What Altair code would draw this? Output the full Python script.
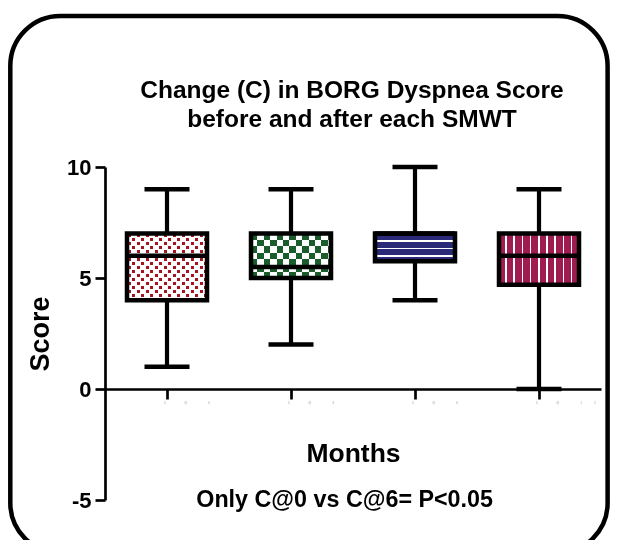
import math
import altair as alt
import pandas as pd

# ---------------- data ----------------
categories = ["C@0", "C@3", "C@6", "C@12"]
q1 = [4.0, 5.0, 5.75, 4.7]
medians = [6.0, 5.5, 7.0, 6.0]
q3 = [7.0, 7.0, 7.0, 7.0]
whisker_low = [1.0, 2.0, 4.0, 0.0]
whisker_high = [9.0, 9.0, 10.0, 9.0]
y_ticks = [-5, 0, 5, 10]
title_lines = ["Change (C) in BORG Dyspnea Score", "before and after each SMWT"]
x_title = "Months"
y_title = "Score"
footnote = "Only C@0 vs C@6= P<0.05"

# ---------------- style ----------------
FONT = "Liberation Sans"
W, H = 496, 333
YMIN, YMAX = -5, 10
PPU = H / (YMAX - YMIN)
BOX_W = 80
LW = 4.5
RED = "#a3161f"
GREEN = "#1b5c2d"
NAVY = "#2a2a78"
CRIMSON = "#9e1c50"

df = pd.DataFrame({
    "cat": categories, "q1": q1, "med": medians, "q3": q3,
    "lo": whisker_low, "hi": whisker_high,
})

E = "\u2003"
def tiny_label(c):
    digits = c.split("@")[1]
    d = (E * 4).join(list(digits))
    return "C" + E * 6 + "@" + E * 7 + d

label_expr = ""
for c in categories:
    label_expr += f"datum.label == '{c}' ? '{tiny_label(c)}' : "
label_expr += "datum.label"

x_axis = alt.Axis(
    title=x_title, titleFont=FONT, titleFontSize=26.5, titleFontWeight="bold",
    titleColor="black", titlePadding=36,
    labelExpr=label_expr, labelFontSize=3, labelColor="#999999", labelAngle=0,
    labelAlign="left", labelOffset=-3, labelPadding=2, labelFont=FONT,
    offset=-(0 - YMIN) * PPU, bandPosition=0.5,
    domainColor="black", domainWidth=2.7, tickColor="black", tickWidth=2.7,
    tickSize=10, grid=False,
)
y_axis = alt.Axis(
    title=y_title, titleFont=FONT, titleFontSize=27, titleFontWeight="bold",
    titleColor="black", titlePadding=12,
    values=y_ticks, labelExpr="'' + datum.value", labelFont=FONT, labelFontSize=22,
    labelFontWeight="bold", labelColor="black", labelPadding=4,
    domainColor="black", domainWidth=2.7, tickColor="black", tickWidth=2.7,
    tickSize=10, grid=False,
)
x_scale = alt.Scale(type="band", domain=categories, paddingInner=0, paddingOuter=0)
y_scale = alt.Scale(domain=[YMIN, YMAX], nice=False, zero=False)

def X():
    return alt.X("cat:N", sort=categories, scale=x_scale, axis=x_axis)

def Y(field):
    return alt.Y(f"{field}:Q", scale=y_scale, axis=y_axis)

base = alt.Chart(df)

# ------------- pattern helpers (gradients with hard stops) -------------
def stripe_stops(length, period, on, phase, on_c, off_c):
    edges = []
    k = -3
    while True:
        s = phase + k * period
        if s > length:
            break
        a, b = max(s, 0), min(s + on, length)
        if b > a:
            edges.append((a / length, b / length))
        k += 1
    stops = [alt.GradientStop(offset=0, color=off_c)]
    for a, b in edges:
        stops += [alt.GradientStop(offset=a, color=off_c),
                  alt.GradientStop(offset=a, color=on_c),
                  alt.GradientStop(offset=b, color=on_c),
                  alt.GradientStop(offset=b, color=off_c)]
    stops.append(alt.GradientStop(offset=1, color=off_c))
    return stops

def grad(stops, vertical_stripes):
    if vertical_stripes:
        return alt.LinearGradient(gradient="linear", stops=stops, x1=0, y1=0, x2=1, y2=0)
    return alt.LinearGradient(gradient="linear", stops=stops, x1=0, y1=0, x2=0, y2=1)

def box_layer(cat, fill, blend=None):
    kw = dict(width=BOX_W, fill=fill, opacity=1)
    if blend:
        kw["blend"] = blend
    return base.transform_filter(alt.datum.cat == cat).mark_bar(**kw).encode(
        x=X(), y=Y("q1"), y2="q3")

layers = []

# rounded frame around the whole figure
border = alt.Chart(pd.DataFrame({"k": [0]})).mark_rect(
    fillOpacity=0, stroke="black", strokeWidth=4.5, cornerRadius=50
).encode(x=alt.value(-94.7), x2=alt.value(502.6), y=alt.value(-151), y2=alt.value(386))
layers.append(border)

# whiskers + caps
layers.append(base.mark_rule(color="black", strokeWidth=4.2).encode(x=X(), y=Y("lo"), y2="hi"))
layers.append(base.mark_tick(color="black", size=45, thickness=4.5, opacity=1).encode(x=X(), y=Y("lo")))
layers.append(base.mark_tick(color="black", size=45, thickness=4.5, opacity=1).encode(x=X(), y=Y("hi")))

heights = {c: (b - a) * PPU for c, a, b in zip(categories, q1, q3)}

# box 1 : red staggered dots on white
c = categories[0]; h = heights[c]
layers.append(box_layer(c, grad(stripe_stops(BOX_W, 9, 4.5, 0, "black", "white"), True)))
layers.append(box_layer(c, grad(stripe_stops(h, 8, 4, 0, "black", "white"), False), "difference"))
layers.append(box_layer(c, grad(stripe_stops(BOX_W, 4.5, 3, 0.7, "black", "white"), True), "lighten"))
layers.append(box_layer(c, grad(stripe_stops(h, 4, 3, 0.5, "black", "white"), False), "lighten"))
layers.append(box_layer(c, RED, "lighten"))

# box 2 : green checkerboard
c = categories[1]; h = heights[c]
layers.append(box_layer(c, grad(stripe_stops(BOX_W, 12.8, 6.4, 0, "black", "white"), True)))
layers.append(box_layer(c, grad(stripe_stops(h, 12.8, 6.4, 0, "black", "white"), False), "difference"))
layers.append(box_layer(c, GREEN, "lighten"))

# box 3 : navy with white horizontal lines
c = categories[2]; h = heights[c]
layers.append(box_layer(c, grad(stripe_stops(h, 7.5, 1.6, 6.8, "white", NAVY), False)))

# box 4 : crimson with white vertical lines
c = categories[3]; h = heights[c]
layers.append(box_layer(c, grad(stripe_stops(BOX_W, 8.2, 1.6, 6.2, "white", CRIMSON), True)))

# outlines + medians
layers.append(base.mark_bar(width=BOX_W, fillOpacity=0, stroke="black", strokeWidth=LW).encode(
    x=X(), y=Y("q1"), y2="q3"))
layers.append(base.mark_tick(color="black", size=BOX_W, thickness=4.5, opacity=1).encode(x=X(), y=Y("med")))

# title (two lines) and footnote
layers.append(alt.Chart(pd.DataFrame({"t": ["\n".join(title_lines)]})).mark_text(
    font=FONT, fontSize=24.5, fontWeight="bold", color="black", align="center",
    baseline="alphabetic", lineBreak="\n", lineHeight=28.6
).encode(x=alt.value(247), y=alt.value(-69), text="t:N"))

layers.append(alt.Chart(pd.DataFrame({"t": [footnote]})).mark_text(
    font=FONT, fontSize=23.3, fontWeight="bold", color="black", align="center",
    baseline="alphabetic"
).encode(x=alt.value(239.6), y=alt.value(340), text="t:N"))

chart = alt.layer(*layers).properties(
    width=W, height=H,
    autosize=alt.AutoSizeParams(type="none"),
    padding={"left": 97, "top": 159, "right": 9, "bottom": 40},
).configure(background="white", view=alt.ViewConfig(stroke=None))

chart.save("out.html", embed_options={"renderer": "svg", "actions": False})
